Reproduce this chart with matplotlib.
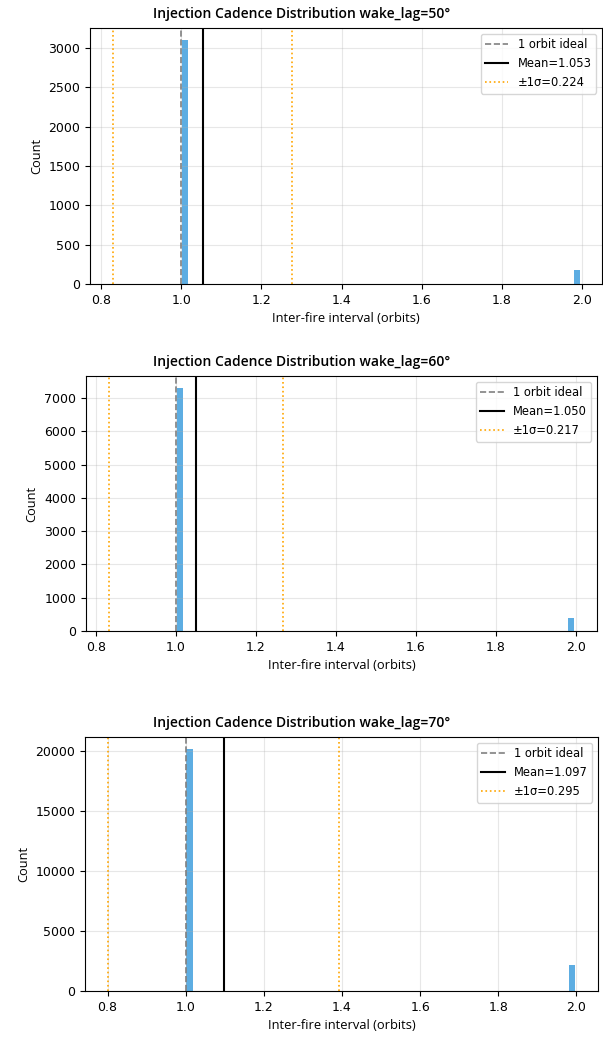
import matplotlib.pyplot as plt
from matplotlib.ticker import MultipleLocator

# Histogram bins (left edges) and counts per wake_lag run
bin_width = 0.0155
bin_lefts = [1.002, 1.980]

wake_lags = [50, 60, 70]
counts_50 = [3100, 175]
counts_60 = [7300, 380]
counts_70 = [20200, 2180]

means = [1.053, 1.050, 1.097]
stds = [0.224, 0.217, 0.295]
x_limits = [(0.772, 2.05), None, None]
y_steps = [500, 1000, 5000]

# axes rectangles in figure pixels: left, top, right, bottom
panel_px = [
    (90, 28, 602, 284),
    (86, 376, 597, 631),
    (85, 737, 598, 991),
]

W, H = 603, 1041
TITLE_FONT = ['Open Sans', 'DejaVu Sans']


def plot_cadence(ax, counts, mean, std, lag, xlim=None, ystep=None, title_x=0.5):
    centers = [left + bin_width / 2 for left in bin_lefts]
    edges = sorted(set([b for left in bin_lefts for b in (left, left + bin_width)]))
    ax.hist(centers, bins=edges, weights=counts, color='#5dade2')

    ax.axvline(1.0, color='gray', linestyle='--', linewidth=1.2, label='1 orbit ideal')
    ax.axvline(mean, color='black', linestyle='-', linewidth=1.5, label=f'Mean={mean:.3f}')
    ax.axvline(mean - std, color='orange', linestyle=':', linewidth=1.2, label=f'±1σ={std:.3f}')
    ax.axvline(mean + std, color='orange', linestyle=':', linewidth=1.2)

    if xlim is not None:
        ax.set_xlim(*xlim)
    if ystep is not None:
        ax.yaxis.set_major_locator(MultipleLocator(ystep))

    ax.set_title(f'Injection Cadence Distribution wake_lag={lag}°', family=TITLE_FONT,
                 fontsize=10, fontweight='semibold', x=title_x, pad=7)
    ax.set_xlabel('Inter-fire interval (orbits)', family=TITLE_FONT, fontsize=9.3)
    ax.set_ylabel('Count', family=TITLE_FONT, fontsize=9.3)
    ax.tick_params(labelsize=9)
    ax.grid(True, alpha=0.3)
    ax.legend(loc='upper right', fontsize=8.3)


fig = plt.figure(figsize=(W / 100, H / 100), dpi=100)

all_counts = [counts_50, counts_60, counts_70]
for i, lag in enumerate(wake_lags):
    l, t, r, b = panel_px[i]
    ax = fig.add_axes([l / W, 1 - b / H, (r - l) / W, (b - t) / H])
    # titles sit centred on the page rather than on each axes
    tx = (W / 2 - l) / (r - l)
    plot_cadence(ax, all_counts[i], means[i], stds[i], lag, x_limits[i], y_steps[i], tx)

fig.savefig('out.png', dpi=100)
